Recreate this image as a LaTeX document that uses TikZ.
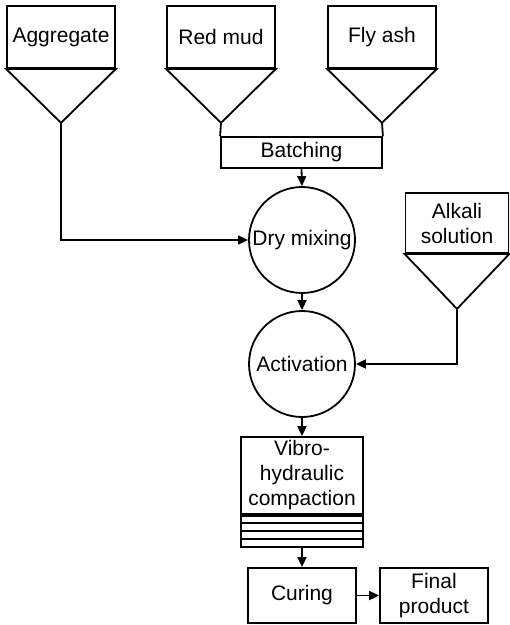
\documentclass[tikz,border=0pt]{standalone}
\usepackage{fontspec}
\setmainfont{Liberation Sans}
\usetikzlibrary{arrows.meta,calc}
\begin{document}
\begin{tikzpicture}[x=1pt,y=-1pt, line width=1.8pt,
  txt/.style={font=\fontsize{21}{25}\selectfont, align=center, inner sep=0pt},
  box/.style={txt, draw, rectangle, minimum width=108pt, minimum height=62pt},
  proc/.style={txt, draw, rectangle, minimum width=108pt, minimum height=55pt},
  disc/.style={txt, draw, circle, minimum size=106pt},
  arr/.style={-{Triangle[length=10pt,width=9pt]}},
  ln/.style={line join=miter}
]
\useasboundingbox (0,0) rectangle (510,625);
% hoppers
\node[box] (agg) at (61,37) {Aggregate};
\node[box] (red) at (221,37) {Red mud};
\node[box] (fly) at (382,37) {Fly ash};
\node[box, minimum width=103pt, minimum height=60pt] (alk) at (457,223) {Alkali\\solution};
\draw[ln] (agg.south west) -- (agg.south east) -- ($(agg.south)+(0,54)$) coordinate (aggtip) -- cycle;
\draw[ln] (red.south west) -- (red.south east) -- ($(red.south)+(0,54)$) coordinate (redtip) -- cycle;
\draw[ln] (fly.south west) -- (fly.south east) -- ($(fly.south)+(0,54)$) coordinate (flytip) -- cycle;
\draw[ln] (alk.south west) -- (alk.south east) -- ($(alk.south)+(0,55)$) coordinate (alktip) -- cycle;
% batching
\node[txt, draw, rectangle, minimum width=161pt, minimum height=31pt] (batch) at (301.5,152.5) {Batching};
\draw (redtip) -- (batch.north west);
\draw (flytip) -- (batch.north east);
% circles
\node[disc] (dry) at (302,240) {Dry mixing};
\node[disc] (act) at (302,364) {Activation};
\draw[arr] (batch.south) -- (dry.north);
\draw[arr] (aggtip) -- (aggtip |- dry.west) -- (dry.west);
\draw[arr] (dry.south) -- (act.north);
\draw[arr] (alktip) -- (alktip |- act.east) -- (act.east);
% compaction
\node[txt, draw, rectangle, minimum width=122pt, minimum height=77pt] (vib) at (302,475.5) {Vibro-\\hydraulic\\compaction};
\node[draw, rectangle, minimum width=122pt, minimum height=31pt, inner sep=0pt, anchor=north] (strp) at (vib.south) {};
\foreach \k in {1,2,3} {
  \draw ($(strp.north west)+(0,7.9*\k)$) -- ($(strp.north east)+(0,7.9*\k)$);
}
\draw[arr] (act.south) -- (vib.north);
% curing
\node[proc] (cur) at (302,595.5) {Curing};
\node[proc] (fin) at (434,595.5) {Final\\product};
\draw[arr] (strp.south) -- (cur.north);
\draw[arr] (cur.east) -- (fin.west);
\end{tikzpicture}
\end{document}
